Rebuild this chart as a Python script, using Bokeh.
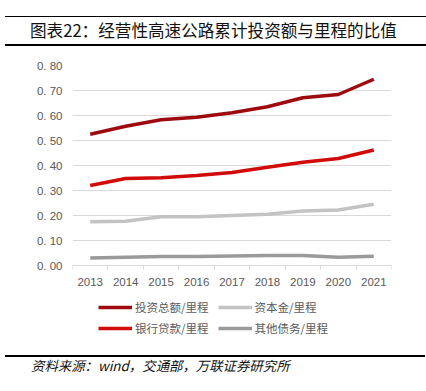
from bokeh.plotting import figure
from bokeh.models import (Div, Legend, LegendItem, FixedTicker, Range1d,
                          CustomJSTickFormatter, ColumnDataSource)
from bokeh.core.properties import value
from bokeh.layouts import column
from bokeh.embed import file_html
from bokeh.resources import INLINE

years = ["2013", "2014", "2015", "2016", "2017", "2018", "2019", "2020", "2021"]
invest_total = [0.525, 0.557, 0.583, 0.593, 0.611, 0.635, 0.671, 0.684, 0.745]
bank_loans = [0.320, 0.348, 0.351, 0.360, 0.372, 0.393, 0.413, 0.428, 0.462]
capital = [0.175, 0.177, 0.195, 0.195, 0.200, 0.205, 0.218, 0.222, 0.245]
other_debt = [0.030, 0.033, 0.036, 0.036, 0.038, 0.040, 0.040, 0.033, 0.037]
y_ticks = [0, 0.1, 0.2, 0.3, 0.4, 0.5, 0.6, 0.7, 0.8]

series_names = ["投资总额/里程", "资本金/里程", "银行贷款/里程", "其他债务/里程"]
series_vals = [invest_total, capital, bank_loans, other_debt]
colors = ["#9E0B0F", "#C3C3C3", "#D10A0A", "#9A9A9A"]

title_text = "图表22：经营性高速公路累计投资额与里程的比值"
source_text = "资料来源：wind，交通部，万联证券研究所"

xs = [i + 0.5 for i in range(len(years))]

# frame: 0.80 -> top, 0.00 at 200px below, extra 76px below zero for the legend
p = figure(width=418, height=301, output_backend="svg", toolbar_location=None,
           x_range=Range1d(0, len(years)), y_range=Range1d(-0.304, 0.8),
           min_border_left=72, min_border_right=27, min_border_top=16,
           min_border_bottom=9)
p.outline_line_color = None
p.background_fill_color = "white"
p.border_fill_color = "white"

renderers = []
for name, vals, c in zip(series_names, series_vals, colors):
    src = ColumnDataSource(dict(x=xs, y=vals))
    r = p.line("x", "y", source=src, line_color=c, line_width=3.5)
    renderers.append(r)

# x axis, pinned at y = 0
p.xaxis.fixed_location = 0
p.xaxis.ticker = FixedTicker(ticks=xs, minor_ticks=list(range(len(years) + 1)))
p.xaxis.major_label_overrides = {x: y for x, y in zip(xs, years)}
p.xaxis.major_tick_line_color = None
p.xaxis.major_tick_out = 0
p.xaxis.major_tick_in = 0
p.xaxis.minor_tick_line_color = "#D9D9D9"
p.xaxis.minor_tick_in = 0
p.xaxis.minor_tick_out = 4
p.xaxis.axis_line_color = "#D9D9D9"
p.xaxis.major_label_text_font = "Liberation Sans"
p.xaxis.major_label_text_font_size = "11.5px"
p.xaxis.major_label_text_color = "#595959"
p.xaxis.major_label_standoff = 8
p.xgrid.grid_line_color = None

# y axis
p.yaxis.ticker = FixedTicker(ticks=y_ticks)
p.yaxis.formatter = CustomJSTickFormatter(code="return tick.toFixed(2).replace('.', '. ');")
p.yaxis.axis_line_color = None
p.yaxis.major_tick_line_color = None
p.yaxis.major_tick_out = 0
p.yaxis.major_tick_in = 0
p.yaxis.minor_tick_line_color = None
p.yaxis.major_label_text_font = "Liberation Sans"
p.yaxis.major_label_text_font_size = "11.5px"
p.yaxis.major_label_text_color = "#595959"
p.yaxis.major_label_standoff = 10
p.ygrid.grid_line_color = "#D9D9D9"
p.ygrid.grid_line_width = 1

items = [LegendItem(label=value(n), renderers=[r]) for n, r in zip(series_names, renderers)]
leg_kw = dict(orientation="horizontal", border_line_color=None,
              background_fill_alpha=0, label_text_font="Noto Sans CJK SC",
              label_text_font_size="11.5px", label_text_color="#595959",
              glyph_width=34, glyph_height=14, label_height=14,
              label_standoff=3, spacing=9, padding=0, margin=0)
leg1 = Legend(items=items[:2], location=(26, 26), **leg_kw)
leg2 = Legend(items=items[2:], location=(26, 5), **leg_kw)
p.add_layout(leg1)
p.add_layout(leg2)

title_div = Div(text=(
    '<div style="position:relative; left:0px; width:420px; height:27px; margin-top:11px;'
    'border-top:1.5px solid #000; border-bottom:2px solid #000;'
    "font-family:'Noto Sans CJK SC'; font-size:16.6px; color:#111;"
    'padding-left:25px; line-height:26px; box-sizing:content-box;">'
    + title_text + '</div>'), width=418, height=39)
foot_div = Div(text=(
    '<div style="position:relative; left:0px; width:420px; border-top:2px solid #000;'
    "font-family:'Noto Sans CJK SC'; font-size:13.4px; font-style:italic; color:#111;"
    'padding-left:26px; padding-top:0px; line-height:17px;">' + source_text + '</div>'),
    width=418, height=30)

layout = column(title_div, p, foot_div, spacing=0)
open("out.html", "w").write(file_html(layout, INLINE))
